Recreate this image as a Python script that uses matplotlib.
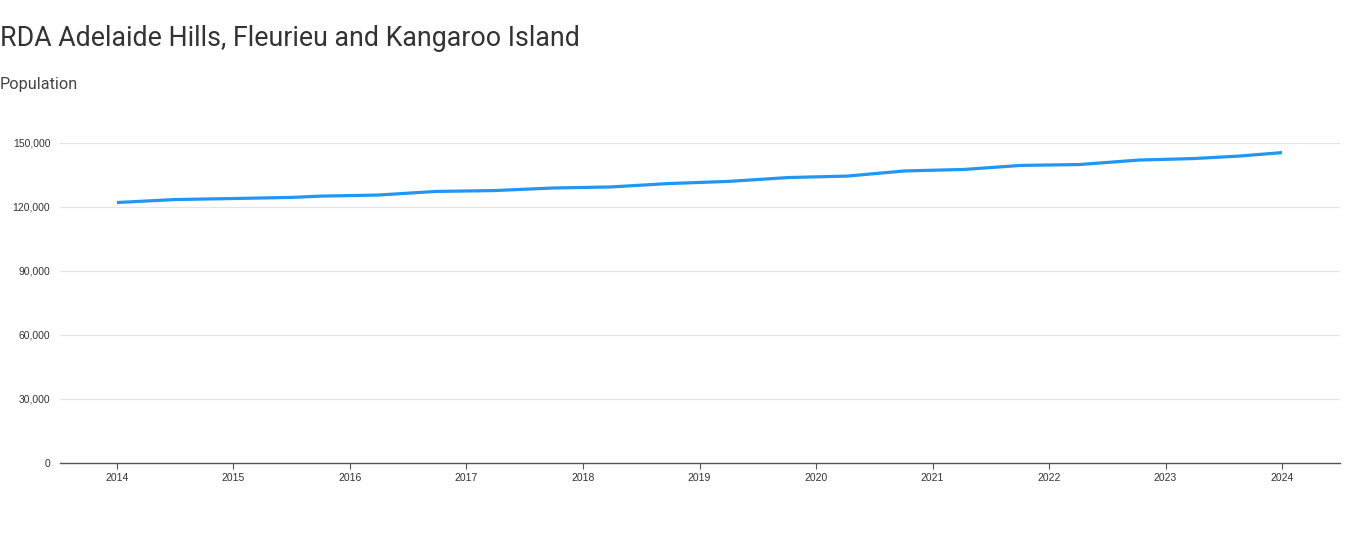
import matplotlib
matplotlib.use("Agg")
import matplotlib.pyplot as plt
from matplotlib.ticker import FuncFormatter

# population series (decimal years)
years = [2014.0, 2014.5, 2015.03, 2015.5, 2015.75, 2016.24, 2016.74, 2017.24,
         2017.74, 2018.24, 2018.74, 2019.25, 2019.76, 2020.27, 2020.76,
         2021.27, 2021.76, 2022.26, 2022.77, 2023.24, 2023.64, 2024.0]
population = [122100, 123500, 124000, 124500, 125100, 125600, 127300, 127700,
              128900, 129400, 131000, 132000, 133800, 134500, 136900,
              137600, 139500, 139900, 142000, 142700, 143900, 145500]
year_ticks = list(range(2014, 2025))
y_ticks = [0, 30000, 60000, 90000, 120000, 150000]

title = "RDA Adelaide Hills, Fleurieu and Kangaroo Island"
subtitle = "Population"

fig = plt.figure(figsize=(13.56, 5.39), dpi=100)
ax = fig.add_axes([60 / 1356, 76 / 539, 1280 / 1356, 320 / 539])

ax.plot(years, population, color="#2196F3", lw=2.3, solid_capstyle="butt",
        solid_joinstyle="round", zorder=3)

ax.set_xlim(2014 - 57 / 116.6, 2024 + 58 / 116.6)
ax.set_ylim(0, 150000)
ax.set_xticks(year_ticks)
ax.set_yticks(y_ticks)
ax.yaxis.set_major_formatter(FuncFormatter(lambda v, p: f"{int(v):,}"))

for v in y_ticks[1:]:
    ax.axhline(v, color="#e3e3e8", lw=0.9, zorder=1)
ax.axhline(0, color="#555555", lw=1.0, zorder=2, clip_on=False)

for s in ax.spines.values():
    s.set_visible(False)
ax.tick_params(axis="y", length=0, pad=7, labelsize=7.5, labelcolor="#333333")
ax.tick_params(axis="x", length=4, width=0.8, color="#555555", pad=3,
               labelsize=7.5, labelcolor="#333333")
for lab in ax.get_xticklabels() + ax.get_yticklabels():
    lab.set_family("Liberation Sans")

fig.text(0, 1 - 38 / 539, title, fontsize=19.3, color="#333333",
         family=["Roboto", "DejaVu Sans"], va="center", ha="left")
fig.text(0, 1 - 84 / 539, subtitle, fontsize=11.7, color="#444444",
         family=["Roboto", "DejaVu Sans"], va="center", ha="left")

fig.savefig("out.png", dpi=100)
